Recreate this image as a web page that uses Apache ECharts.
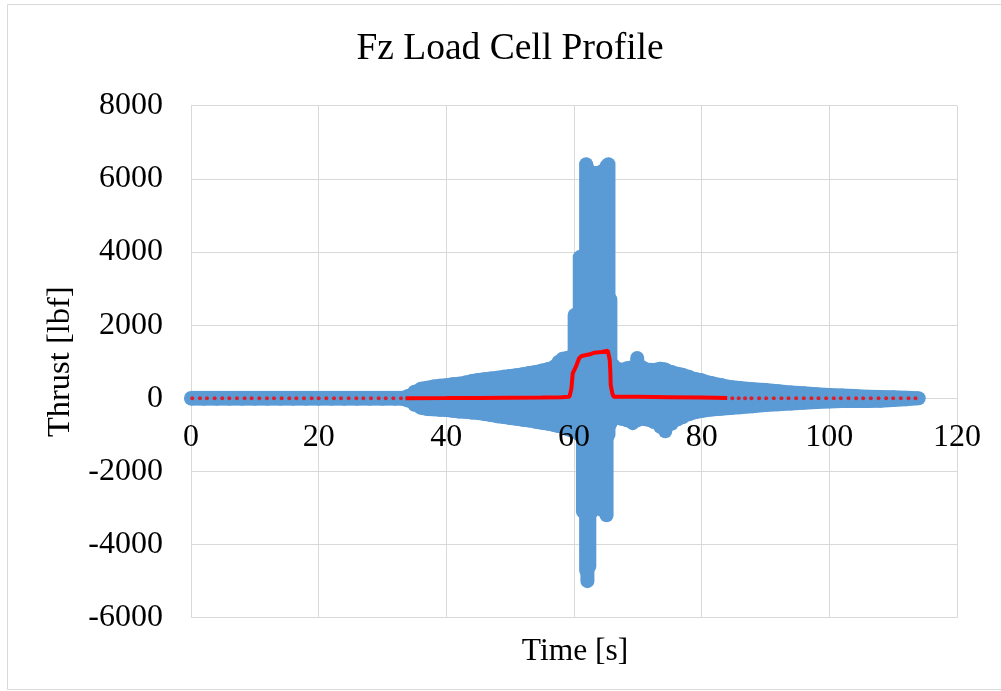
<!DOCTYPE html>
<html>
<head>
<meta charset="utf-8">
<script src="https://cdn.jsdelivr.net/npm/echarts@6/dist/echarts.min.js"></script>
<style>html,body{margin:0;padding:0;background:#fff;}#c{width:1001px;height:691px;}</style>
</head>
<body>
<div id="c"></div>
<script>
// ---- data ----
var xTicks = [0, 20, 40, 60, 80, 100, 120];
var yTicks = [-6000, -4000, -2000, 0, 2000, 4000, 6000, 8000];

// blue raw-sample cloud: envelope of sample values (upper / lower) per time
var envT = [
  0,2,4,6,8,10,12,14,16,18,20,22,24,26,28,30,32,
  33,34,35,36,37,38,39,40,41,42,43,44,45,46,47,48,49,50,51,52,53,54,55,56,57,
  57.6,58.2,59,59.6,60.1,60.5,60.9,61.4,61.9,62.1,62.4,62.8,63.3,63.8,64.3,64.8,65.1,65.4,65.7,
  66.2,66.8,67.5,68.3,69.2,69.9,70.7,71.5,72.5,73.5,74.3,75.3,76.2,77,78,79,80,
  81.5,83,84.5,86,88,90,92,94,96,98,100,102,104,106,108,110,112,114
];
var envHi = [
  10,10,10,10,10,10,10,10,10,10,10,10,10,10,10,10,10,
  10,60,180,260,290,320,340,355,380,400,430,470,500,520,540,560,590,610,630,660,690,720,760,800,880,
  1000,1080,1100,1150,2280,1200,3860,3900,6400,6300,6200,6150,6150,6150,6200,6250,6350,6400,2700,
  900,800,780,820,850,1100,850,780,770,810,790,720,670,640,590,530,490,
  420,360,310,280,250,225,195,160,135,110,90,75,60,45,35,25,15,0
];
var envLo = [
  -10,-10,-10,-10,-10,-10,-10,-10,-10,-10,-10,-10,-10,-10,-10,-10,-10,
  -10,-60,-180,-260,-290,-300,-315,-320,-340,-360,-370,-390,-400,-430,-460,-490,-510,-540,-560,-590,-610,-640,-670,-700,-740,
  -760,-780,-850,-880,-900,-950,-1000,-3100,-4700,-5000,-4600,-3100,-3000,-3000,-3050,-3000,-3200,-1000,-700,
  -560,-540,-560,-600,-680,-600,-560,-580,-650,-780,-900,-700,-580,-520,-440,-380,-345,
  -310,-285,-265,-245,-215,-185,-165,-145,-120,-100,-85,-78,-75,-75,-70,-50,-25,0
];

// red averaged trace: dense part
var redLineT = [33.6,40,45,50,55,58,59.3,59.6,59.8,60.3,60.8,61.2,62.5,63.2,64.3,65.3,65.6,65.7,65.75,66.0,66.2,70,75,80,84];
var redLineV = [0,5,10,15,20,30,44,273,683,864,1094,1157,1203,1247,1266,1301,1047,683,364,137,44,40,30,20,10];
// red averaged trace: sparse dots
var redDotT = [0.2,1.4,2.5,3.7,4.9,6.0,7.2,8.4,9.5,10.7,11.9,13.0,14.2,15.4,16.5,17.7,18.9,20.0,21.2,22.4,23.5,24.7,25.9,27.0,28.2,29.4,30.5,31.7,32.9,
  84.8,85.8,86.8,87.8,89.0,90.1,91.3,92.5,93.6,94.8,96.0,97.2,98.3,99.5,100.7,101.8,103.0,104.2,105.3,106.5,107.7,108.9,110.0,111.2,112.4,113.5];
var redDotV = [0,0,0,0,0,0,0,0,0,0,0,0,0,0,0,0,0,0,0,0,0,0,0,0,0,0,0,0,0,
  0,0,0,0,0,0,0,0,0,0,0,0,0,0,0,0,0,0,0,0,0,0,0,0,0,0];

// ---- chart ----
var FONT = "'Liberation Serif', 'Times New Roman', serif";
var BLUE = '#5b9bd5', RED = '#ff0000', GRID = '#d9d9d9';
var R = 7;
var GRID_TOP = 105.7, GRID_H = 512;
// distance from plot bottom (-6000) up to the 0 line, so the x labels sit on the zero line
var ZERO_OFFSET = -GRID_H * (0 - yTicks[0]) / (yTicks[yTicks.length - 1] - yTicks[0]);

var envData = envT.map(function (t, i) { return [t, envHi[i], envLo[i]]; });
var redLine = redLineT.map(function (t, i) { return [t, redLineV[i]]; });
var redDots = redDotT.map(function (t, i) { return [t, redDotV[i]]; });

var chart = echarts.init(document.getElementById('c'), null, {renderer: 'canvas'});
chart.setOption({
  backgroundColor: '#fff',
  animation: false,
  title: [{
    text: 'Fz Load Cell Profile',
    left: 510, top: 30, padding: 0, textAlign: 'center',
    textStyle: {fontFamily: FONT, fontSize: 37.5, fontWeight: 'normal', color: '#000'}
  }, {
    text: 'Time [s]',
    left: 575, top: 636, padding: 0, textAlign: 'center',
    textStyle: {fontFamily: FONT, fontSize: 31.5, fontWeight: 'normal', color: '#000'}
  }],
  graphic: [{
    type: 'rect', silent: true, z: -10,
    shape: {x: 7.5, y: 4.5, width: 1000, height: 685},
    style: {fill: 'none', stroke: GRID, lineWidth: 1}
  }],
  grid: {left: 191, top: GRID_TOP, width: 766, height: GRID_H, containLabel: false},
  xAxis: [{
    // labels axis, placed on the y = 0 line, drawn above the data
    type: 'value', min: xTicks[0], max: xTicks[xTicks.length - 1], interval: 20,
    position: 'bottom', offset: ZERO_OFFSET, z: 10,
    axisLine: {show: false, onZero: false},
    axisTick: {show: false},
    splitLine: {show: false},
    axisLabel: {show: true, margin: 23.5, fontFamily: FONT, fontSize: 32, color: '#000',
      formatter: function (v) { return xTicks.indexOf(v) >= 0 ? String(v) : ''; }}
  }, {
    // vertical gridlines, under the data
    type: 'value', min: xTicks[0], max: xTicks[xTicks.length - 1], interval: 20,
    position: 'top',
    axisLine: {show: false, onZero: false},
    axisTick: {show: false},
    axisLabel: {show: false},
    splitLine: {show: true, lineStyle: {color: GRID, width: 1}}
  }],
  yAxis: [{
    type: 'value', min: yTicks[0], max: yTicks[yTicks.length - 1], interval: 2000,
    axisLine: {show: false, onZero: false},
    axisTick: {show: false},
    splitLine: {show: true, lineStyle: {color: GRID, width: 1}},
    axisLabel: {margin: 28, fontFamily: FONT, fontSize: 32, color: '#000',
      formatter: function (v) { return yTicks.indexOf(v) >= 0 ? String(v) : ''; }},
    name: 'Thrust [lbf]', nameLocation: 'middle', nameGap: 110,
    nameTextStyle: {fontFamily: FONT, fontSize: 32.5, color: '#000'}
  }],
  series: [{
    type: 'custom',
    name: 'raw',
    xAxisIndex: 0, yAxisIndex: 0,
    z: 2,
    data: envData,
    encode: {x: 0, y: [1, 2]},
    renderItem: function (params, api) {
      var i = params.dataIndex;
      var t = api.value(0), hi = api.value(1), lo = api.value(2);
      var pH = api.coord([t, hi]);
      var pL = api.coord([t, lo]);
      var children = [{
        type: 'rect',
        shape: {x: pH[0] - R, y: pH[1] - R, width: 2 * R, height: pL[1] - pH[1] + 2 * R, r: R},
        style: {fill: BLUE}
      }];
      if (i < envData.length - 1) {
        var nx = envData[i + 1];
        var qH = api.coord([nx[0], nx[1]]);
        var qL = api.coord([nx[0], nx[2]]);
        children.push({
          type: 'polygon',
          shape: {points: [[pH[0], pH[1] - R], [qH[0], qH[1] - R], [qL[0], qL[1] + R], [pL[0], pL[1] + R]]},
          style: {fill: BLUE}
        });
      }
      return {type: 'group', children: children};
    }
  }, {
    type: 'line',
    name: 'avg',
    xAxisIndex: 0, yAxisIndex: 0,
    z: 3,
    data: redLine,
    showSymbol: false,
    symbol: 'none',
    lineStyle: {color: RED, width: 4},
    itemStyle: {color: RED}
  }, {
    type: 'scatter',
    name: 'avgDots',
    xAxisIndex: 0, yAxisIndex: 0,
    z: 3,
    data: redDots,
    symbolSize: 4,
    itemStyle: {color: RED}
  }]
});
</script>
</body>
</html>
